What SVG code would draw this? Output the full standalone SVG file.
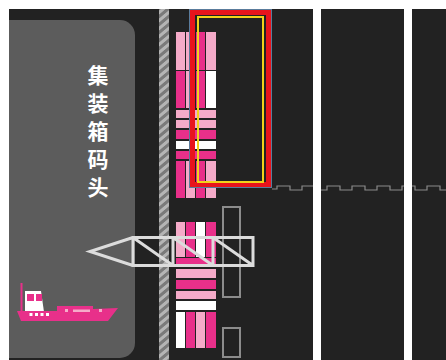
<svg xmlns="http://www.w3.org/2000/svg" width="446" height="360" viewBox="0 0 446 360">
  <defs>
    <pattern id="hatch" patternUnits="userSpaceOnUse" width="10" height="8" patternTransform="skewY(-40)">
      <rect width="10" height="8" fill="#7a7a7a"/>
      <rect width="10" height="4" fill="#b4b4b4"/>
    </pattern>
    <style>
      .hp { fill: #e8308a; }
      .lp { fill: #f5abc9; }
      .wt { fill: #ffffff; }
      .slot { fill: none; stroke: #8c8c8c; stroke-width: 2; }
      .truss { fill: none; stroke: #dcdcdc; stroke-width: 3; stroke-linejoin: miter; }
      .lane { fill: #ffffff; }
      .label { font-family: "Noto Sans CJK SC", "Noto Sans", sans-serif; font-size: 21px; font-weight: bold; fill: #ffffff; text-anchor: middle; }
    </style>
  </defs>

  <!-- page and yard surface -->
  <rect width="446" height="360" fill="#ffffff"/>
  <rect x="9" y="9" width="437" height="351" fill="#222222"/>

  <!-- quay panel -->
  <g id="quay">
    <path d="M9 20 H120 A15 15 0 0 1 135 35 V343 A15 15 0 0 1 120 358 H9 Z" fill="#5c5c5c"/>
    <text class="label" x="98" y="83">集</text>
    <text class="label" x="98" y="111">装</text>
    <text class="label" x="98" y="139">箱</text>
    <text class="label" x="98" y="167">码</text>
    <text class="label" x="98" y="195">头</text>
  </g>

  <!-- quay edge -->
  <g id="quay-edge">
    <rect x="159" y="9" width="10" height="351" fill="url(#hatch)"/>
  </g>

  <!-- gate line -->
  <g id="gate-line">
    <path d="M272 189 H277 V186 H290 V190 H302 V186 H315 V190 H327 V186 H340 V190 H352 V186 H365 V190 H377 V186 H390 V190 H402 V186 H415 V190 H427 V186 H440 V190 H446" fill="none" stroke="#8a8a8a" stroke-width="1.2"/>
  </g>

  <!-- lanes -->
  <g id="lanes">
    <rect class="lane" x="313" y="9" width="8" height="351"/>
    <rect class="lane" x="404" y="9" width="8" height="351"/>
  </g>

  <!-- upper container stack -->
  <g id="stack-upper">
    <rect class="lp" x="176" y="32" width="9" height="38"/>
    <rect class="lp" x="186" y="32" width="9" height="38"/>
    <rect class="hp" x="196" y="32" width="9" height="38"/>
    <rect class="lp" x="206" y="32" width="10" height="38"/>

    <rect class="hp" x="176" y="71" width="9" height="37"/>
    <rect class="lp" x="186" y="71" width="9" height="37"/>
    <rect class="hp" x="196" y="71" width="9" height="37"/>
    <rect class="wt" x="206" y="71" width="10" height="37"/>

    <rect class="lp" x="176" y="110" width="40" height="8"/>
    <rect class="lp" x="176" y="120" width="40" height="8"/>
    <rect class="hp" x="176" y="130" width="40" height="9"/>
    <rect class="wt" x="176" y="141" width="40" height="8"/>
    <rect class="hp" x="176" y="151" width="40" height="8"/>

    <rect class="hp" x="176" y="161" width="9" height="37"/>
    <rect class="lp" x="186" y="161" width="9" height="37"/>
    <rect class="hp" x="196" y="161" width="9" height="37"/>
    <rect class="lp" x="206" y="161" width="10" height="37"/>
  </g>

  <!-- selected block frame -->
  <g id="block-frame">
    <rect x="189.5" y="9.5" width="82" height="178" fill="none" stroke="#5a7c9c" stroke-width="1"/>
    <rect x="192.5" y="12.5" width="76" height="172" fill="none" stroke="#e8141c" stroke-width="5"/>
    <rect x="198" y="17" width="65" height="165" fill="none" stroke="#f2d21a" stroke-width="2"/>
  </g>

  <!-- lower container stack -->
  <g id="stack-lower">
    <rect class="lp" x="176" y="222" width="9" height="35"/>
    <rect class="hp" x="186" y="222" width="9" height="35"/>
    <rect class="wt" x="196" y="222" width="9" height="35"/>
    <rect class="hp" x="206" y="222" width="10" height="35"/>

    <rect class="hp" x="176" y="258" width="40" height="9"/>
    <rect class="lp" x="176" y="269" width="40" height="9"/>
    <rect class="hp" x="176" y="280" width="40" height="9"/>
    <rect class="lp" x="176" y="291" width="40" height="8"/>
    <rect class="wt" x="176" y="301" width="40" height="9"/>

    <rect class="wt" x="176" y="312" width="9" height="36"/>
    <rect class="hp" x="186" y="312" width="9" height="36"/>
    <rect class="lp" x="196" y="312" width="9" height="36"/>
    <rect class="hp" x="206" y="312" width="10" height="36"/>
  </g>

  <!-- empty slots -->
  <g id="slots">
    <rect class="slot" x="223" y="207" width="17" height="90"/>
    <rect class="slot" x="223" y="328" width="17" height="29"/>
  </g>

  <!-- quay crane -->
  <g id="crane">
    <path class="truss" d="M133 237.5 H253 V265.5 H133 Z M133 237.5 L90 251.5 L133 265.5 M173 237.5 V265.5 M213 237.5 V265.5 M133 237.5 L173 265.5 M173 237.5 L213 265.5 M213 237.5 L253 265.5"/>
  </g>

  <!-- vessel -->
  <g id="vessel">
    <rect x="20.5" y="283" width="2" height="30" fill="#e8308a"/>
    <path d="M25 291 H41 L44 312 H25 Z" fill="#ffffff"/>
    <rect x="27" y="294" width="7" height="7" fill="#e8308a"/>
    <rect x="36" y="294" width="6" height="7" fill="#e8308a"/>
    <path d="M17 311 H57 V306 H93 V309 L118 308 L108 321 H21 Z" fill="#e8308a"/>
    <rect x="29.5" y="313" width="3" height="3" fill="#ffffff"/>
    <rect x="35" y="313" width="3" height="3" fill="#ffffff"/>
    <rect x="40.5" y="313" width="3" height="3" fill="#ffffff"/>
    <rect x="46" y="313" width="3" height="3" fill="#ffffff"/>
    <rect x="65" y="309" width="3" height="3" fill="#f5abc9"/>
    <rect x="73" y="309.5" width="17" height="2.5" fill="#f5abc9"/>
    <rect x="99" y="309" width="3" height="3" fill="#f5abc9"/>
  </g>
</svg>
